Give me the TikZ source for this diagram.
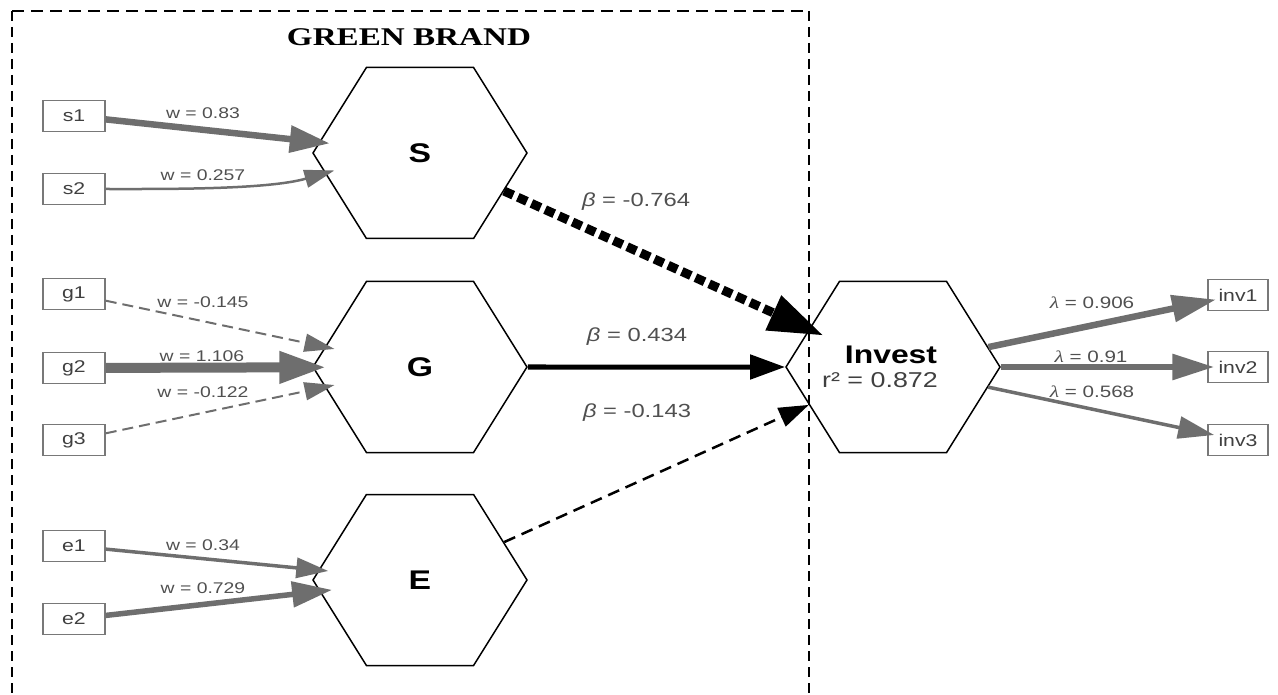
\documentclass[tikz,border=0pt]{standalone}
\usepackage{fontspec}
\setmainfont{Liberation Sans}[FakeStretch=1.25]
\newfontfamily\titlefont{Liberation Serif}[FakeStretch=1.3]
\usetikzlibrary{shapes.symbols,arrows.meta}

\definecolor{edgegrey}{RGB}{110,110,110}
\definecolor{labgrey}{RGB}{80,80,80}
\definecolor{boxgrey}{RGB}{120,120,120}

\tikzset{
  construct/.style={signal, signal to=east and west, signal pointer angle=116,
    minimum width=214pt, minimum height=171pt, inner sep=0pt,
    draw=black, line width=1.5pt, font=\fontsize{27}{30}\selectfont\bfseries},
  indicator/.style={draw=boxgrey, line width=1.5pt, minimum width=62pt,
    minimum height=31pt, inner sep=0pt, font=\fontsize{17}{19}\selectfont,
    text=black!75},
  wlab/.style={font=\fontsize{15.5}{17}\selectfont, text=labgrey, inner sep=0pt,
    text height=11pt, text depth=0pt},
  blab/.style={font=\fontsize{19}{21}\selectfont, text=labgrey, inner sep=0pt,
    text height=13.6pt, text depth=0pt},
  llab/.style={font=\fontsize{16.5}{18}\selectfont, text=labgrey, inner sep=0pt,
    text height=11.8pt, text depth=0pt},
  gpath/.style n args={3}{draw=edgegrey, line width=#1pt,
    -{Triangle[length=#2pt,width=#3pt]}},
  kpath/.style n args={3}{draw=black, line width=#1pt,
    -{Triangle[length=#2pt,width=#3pt]}},
  framev/.style={draw=black, line width=1.4pt, dash pattern=on 10pt off 6pt},
  frameh/.style={draw=black, line width=1.4pt, dash pattern=on 12pt off 7pt},
}

\begin{document}
\begin{tikzpicture}[x=1pt,y=-1pt]
  \useasboundingbox (0,0) rectangle (1278,695);

  % constructs
  \node[construct] (S) at (420,153) {S};
  \node[construct] (G) at (420,367) {G};
  \node[construct] (E) at (420,580) {E};
  \node[construct] (Invest) at (893,367) {};
  \node[font=\fontsize{25.5}{28}\selectfont\bfseries, inner sep=0pt,
        text height=18.3pt, text depth=0pt] (investname) at (891,354) {Invest};
  \node[font=\fontsize{21.5}{24}\selectfont, text=black!75, inner sep=0pt,
        text height=15.4pt, text depth=0pt] (rsq) at (880,380) {r² = 0.872};

  % indicators
  \node[indicator] (s1) at (74,116) {s1};
  \node[indicator] (s2) at (74,189) {s2};
  \node[indicator] (g1) at (74,294) {g1};
  \node[indicator] (g2) at (74,368) {g2};
  \node[indicator] (g3) at (74,440) {g3};
  \node[indicator] (e1) at (74,546) {e1};
  \node[indicator] (e2) at (74,619) {e2};
  \node[indicator, minimum width=60pt] (inv1) at (1238,295) {inv1};
  \node[indicator, minimum width=60pt] (inv2) at (1238,367) {inv2};
  \node[indicator, minimum width=60pt] (inv3) at (1238,440) {inv3};

  % block frame and its title
  \draw[frameh] (12,11) -- (809,11);
  \draw[framev] (12,11) -- (12,695);
  \draw[framev] (809,11) -- (809,695);
  \node[font=\titlefont\fontsize{25.5}{28}\selectfont\bfseries, inner sep=0pt]
       (title) at (409,37) {GREEN BRAND};

  % formative weights
  \draw[gpath={6.5}{40}{26}, shorten >=-11pt] (s1) -- (S);
  \draw[gpath={2.5}{30}{18}, shorten >=-10pt] (s2.east) to[out=0,in=196,looseness=0.7] (S.192);
  \draw[gpath={2}{30}{18}, dash pattern=on 11pt off 6pt, shorten >=-10pt] (g1) -- (G);
  \draw[gpath={10}{47}{30}, shorten >=-14pt] (g2) -- (G);
  \draw[gpath={2}{30}{18}, dash pattern=on 11pt off 6pt, shorten >=-10pt] (g3) -- (G);
  \draw[gpath={3.5}{32}{20}, shorten >=-10pt] (e1) -- (E);
  \draw[gpath={5.5}{40}{25}, shorten >=-13pt] (e2) -- (E);

  % structural paths
  \draw[kpath={9}{55}{36}, dash pattern=on 10pt off 5pt, shorten >=-16pt] (S) -- (Invest);
  \draw[kpath={5}{35}{24}] (G) -- (Invest);
  \draw[kpath={2.5}{30}{20}, dash pattern=on 12pt off 7pt] (E) -- (Invest);

  % reflective loadings
  \draw[gpath={6.5}{44}{26}, shorten >=-9pt] (Invest) -- (inv1);
  \draw[gpath={6}{42}{25}, shorten >=-7pt] (Invest) -- (inv2);
  \draw[gpath={3.5}{36}{22}, shorten >=-7pt] (Invest) -- (inv3);

  % path labels
  \node[wlab] (w1) at (203,113) {w = 0.83};
  \node[wlab] (w2) at (203,175) {w = 0.257};
  \node[wlab] (w3) at (203,302) {w = -0.145};
  \node[wlab] (w4) at (202,356) {w = 1.106};
  \node[wlab] (w5) at (203,392) {w = -0.122};
  \node[wlab] (w6) at (203,545) {w = 0.34};
  \node[wlab] (w7) at (203,588) {w = 0.729};
  \node[blab] (b1) at (636,200) {\itshape β\upshape{} = -0.764};
  \node[blab] (b2) at (637,335) {\itshape β\upshape{} = 0.434};
  \node[blab] (b3) at (637,411) {\itshape β\upshape{} = -0.143};
  \node[llab] (l1) at (1092,303) {{\titlefont\itshape λ} = 0.906};
  \node[llab] (l2) at (1091,357) {{\titlefont\itshape λ} = 0.91};
  \node[llab] (l3) at (1092,392) {{\titlefont\itshape λ} = 0.568};
\end{tikzpicture}
\end{document}
